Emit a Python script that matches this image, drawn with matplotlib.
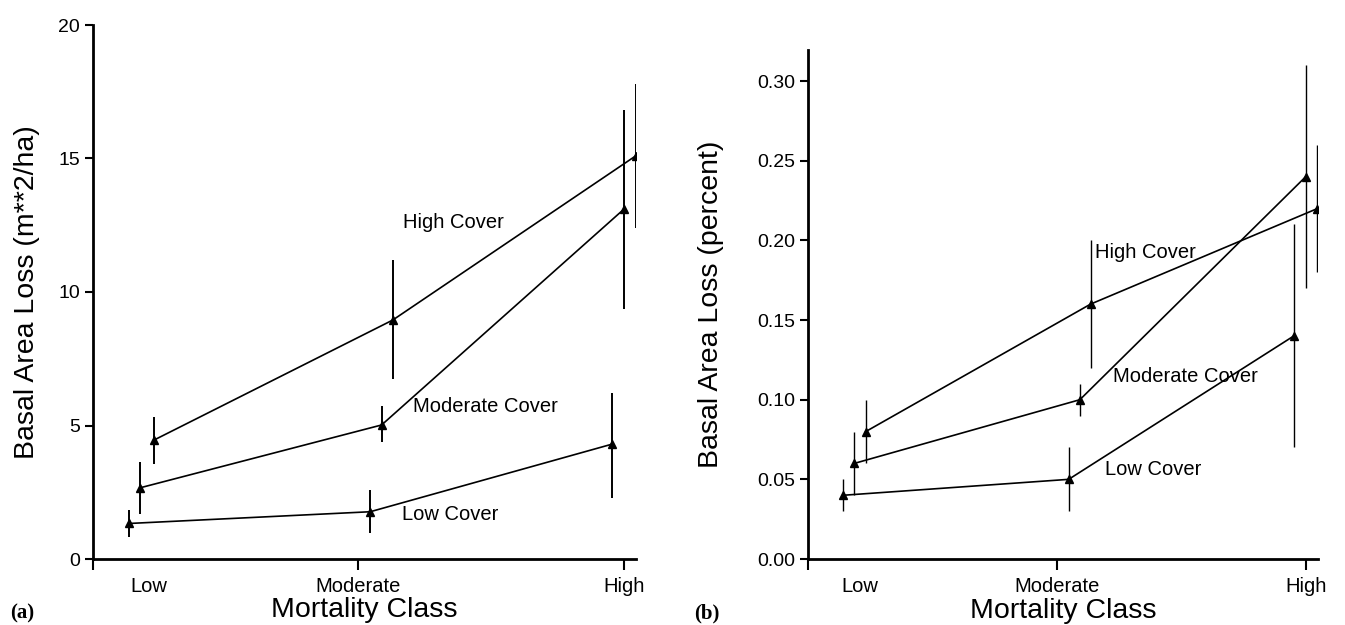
import numpy as np
import matplotlib
matplotlib.use("Agg")
import matplotlib.pyplot as plt

plt.rcParams["font.family"] = ["Liberation Sans", "DejaVu Sans"]

# ---------------------------------------------------------------------------
# data
# ---------------------------------------------------------------------------
CLASSES = ["Low", "Moderate", "High"]
SERIES = ["High Cover", "Moderate Cover", "Low Cover"]
LOW_LABEL_X = 1.21   # "Low" is printed right of its tick in the original

# (a) basal area loss, m**2/ha
A_X = {"High Cover": [1.23, 2.13, 3.045],
       "Moderate Cover": [1.18, 2.088, 3.0],
       "Low Cover": [1.136, 2.045, 2.955]}
A_Y = {"High Cover": [4.45, 8.95, 15.1],
       "Moderate Cover": [2.67, 5.02, 13.1],
       "Low Cover": [1.33, 1.77, 4.3]}
A_LO = {"High Cover": [3.55, 6.75, 12.4],
        "Moderate Cover": [1.68, 4.37, 9.35],
        "Low Cover": [0.82, 0.96, 2.3]}
A_HI = {"High Cover": [5.3, 11.2, 17.8],
        "Moderate Cover": [3.62, 5.73, 16.8],
        "Low Cover": [1.84, 2.58, 6.22]}

# (b) basal area loss, percent
B_X = {"High Cover": [1.232, 2.134, 3.044],
       "Moderate Cover": [1.186, 2.091, 2.997],
       "Low Cover": [1.141, 2.046, 2.949]}
B_Y = {"High Cover": [0.08, 0.16, 0.22],
       "Moderate Cover": [0.06, 0.10, 0.24],
       "Low Cover": [0.04, 0.05, 0.14]}
B_LO = {"High Cover": [0.06, 0.12, 0.18],
        "Moderate Cover": [0.04, 0.09, 0.17],
        "Low Cover": [0.03, 0.03, 0.07]}
B_HI = {"High Cover": [0.10, 0.20, 0.26],
        "Moderate Cover": [0.08, 0.11, 0.31],
        "Low Cover": [0.05, 0.07, 0.21]}

# label anchor points (left edge, vertical centre) in data units
A_LABELS = {"High Cover": (2.17, 12.6), "Moderate Cover": (2.205, 5.7),
            "Low Cover": (2.165, 1.66)}
B_LABELS = {"High Cover": (2.152, 0.1925), "Moderate Cover": (2.225, 0.1143),
            "Low Cover": (2.19, 0.0559)}


def draw_panel(ax, xs, ys, los, his, labels, ylim, yticks, yfmt, err_lw):
    for name in SERIES:
        x = np.array(xs[name]); y = np.array(ys[name])
        yerr = [y - np.array(los[name]), np.array(his[name]) - y]
        ax.errorbar(x, y, yerr=yerr, fmt="^-", color="black", lw=1.2,
                    elinewidth=err_lw, capsize=0, markersize=5.5)
        lx, ly = labels[name]
        ax.text(lx, ly, name, ha="left", va="center", fontsize=14.5)

    ax.set_xlim(1.0, 3.046)
    ax.set_ylim(*ylim)
    ax.set_yticks(yticks)
    ax.set_yticklabels([yfmt.format(v) for v in yticks])
    # major ticks carry the marks, "Low" text sits on an unmarked minor tick
    ax.set_xticks([1, 2, 3], ["", CLASSES[1], CLASSES[2]])
    ax.set_xticks([LOW_LABEL_X], [CLASSES[0]], minor=True)

    for side in ("top", "right"):
        ax.spines[side].set_visible(False)
    for side in ("left", "bottom"):
        ax.spines[side].set_linewidth(2.0)
    ax.tick_params(axis="y", direction="out", length=6, width=1.5,
                   labelsize=14, pad=3)
    ax.tick_params(axis="x", which="major", direction="out", length=8,
                   width=1.5, labelsize=14.5, pad=5)
    ax.tick_params(axis="x", which="minor", length=0, labelsize=14.5, pad=13)
    ax.set_xlabel("Mortality Class", fontsize=20.5)


fig = plt.figure(figsize=(13.45, 6.25), dpi=100)
ax_a = fig.add_axes([0.0689, 0.1056, 0.404, 0.8544])
ax_b = fig.add_axes([0.6007, 0.1056, 0.3792, 0.8144])

draw_panel(ax_a, A_X, A_Y, A_LO, A_HI, A_LABELS, (0, 20),
           [0, 5, 10, 15, 20], "{:g}", 1.4)
ax_a.set_ylabel("Basal Area Loss (m**2/ha)", fontsize=20.5)
ax_a.yaxis.set_label_coords(-0.097, 0.5)
ax_a.xaxis.set_label_coords(0.5, -0.072)

draw_panel(ax_b, B_X, B_Y, B_LO, B_HI, B_LABELS, (0, 0.3195),
           [0.0, 0.05, 0.10, 0.15, 0.20, 0.25, 0.30], "{:.2f}", 1.0)
ax_b.set_ylabel("Basal Area Loss (percent)", fontsize=20.5)
ax_b.yaxis.set_label_coords(-0.165, 0.5)
ax_b.xaxis.set_label_coords(0.5, -0.076)

fig.text(0.0164, 0.019, "(a)", family=["Liberation Serif", "DejaVu Serif"],
         fontsize=15, fontweight="bold", ha="center", va="center")
fig.text(0.5257, 0.019, "(b)", family=["Liberation Serif", "DejaVu Serif"],
         fontsize=15, fontweight="bold", ha="center", va="center")

fig.savefig("out.png", dpi=100)
